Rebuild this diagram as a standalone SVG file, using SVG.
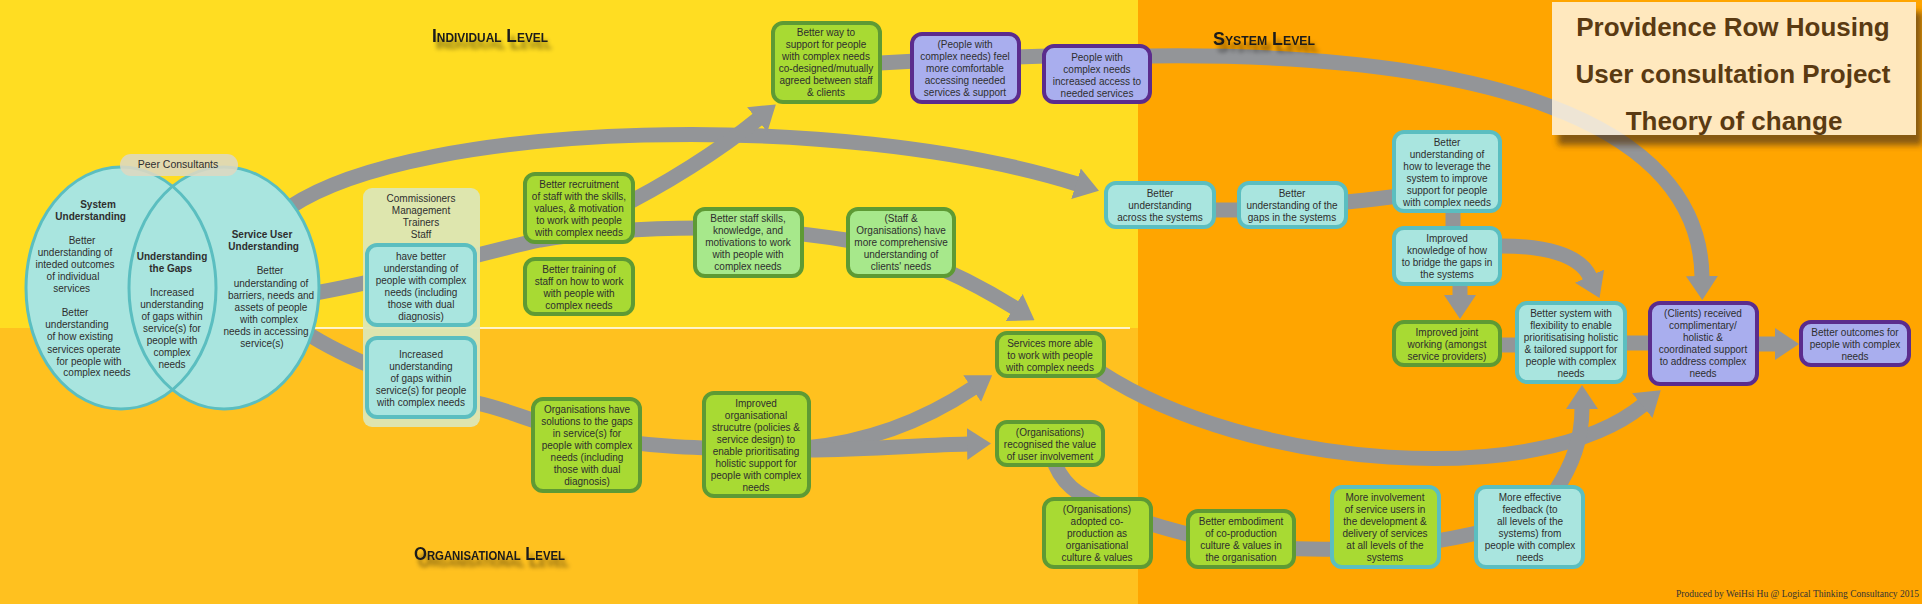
<svg xmlns="http://www.w3.org/2000/svg" width="1922" height="604" viewBox="0 0 1922 604">
<style>
.cy{fill:#A9E5DF;stroke:#5BBEC0;stroke-width:4}
.gr{fill:#A8DA33;stroke:#5E9A34;stroke-width:4}
.lg{fill:#A7E88B;stroke:#5E9A34;stroke-width:4}
.pu{fill:#A9AEEE;stroke:#5B2C8D;stroke-width:4}
.gi{fill:#A8DA33;stroke:#5BBEC0;stroke-width:4}
.t{font-family:"Liberation Sans",Arial,sans-serif;font-size:10px;fill:#2E2E2E;text-anchor:middle}
.b{font-weight:bold}
.arr{fill:none;stroke:#939598;stroke-width:15}
.lvl{font-family:"Liberation Sans",Arial,sans-serif;font-weight:bold;font-variant:small-caps;fill:#1A1A1A;font-size:19px}
.ttl{font-family:"Liberation Sans",Arial,sans-serif;font-size:26px;font-weight:bold;fill:#5A3A12;text-anchor:middle}
</style>
<defs>
<marker id="ah" markerUnits="userSpaceOnUse" viewBox="0 0 24 32" markerWidth="24" markerHeight="32" refX="1" refY="16" orient="auto">
<path d="M0,0 L24,16 L0,32 z" fill="#939598"/>
</marker>
<filter id="tsh" x="-10%" y="-40%" width="130%" height="220%">
<feGaussianBlur in="SourceAlpha" stdDeviation="2"/>
<feOffset dx="4" dy="7" result="o"/>
<feFlood flood-color="#000" flood-opacity="0.5"/>
<feComposite in2="o" operator="in"/>
<feMerge><feMergeNode/><feMergeNode in="SourceGraphic"/></feMerge>
</filter>
<filter id="bsh" x="-5%" y="-10%" width="115%" height="130%">
<feDropShadow dx="6" dy="10" stdDeviation="3" flood-color="#5A3D12" flood-opacity="0.85"/>
</filter>
</defs>

<g id="background">
<rect x="0" y="0" width="1138" height="328" fill="#FFDD22"/>
<rect x="0" y="328" width="1138" height="276" fill="#FFC11F"/>
<rect x="1138" y="0" width="784" height="604" fill="#FFA500"/>
<line x1="30" y1="328" x2="1130" y2="328" stroke="#FFFFFF" stroke-width="1.5"/>
</g>

<g id="connectors">
<path class="arr" d="M290,207 C420,120 840,110 1077,184" marker-end="url(#ah)"/>
<path class="arr" d="M315,293 C400,278 470,255 540,240 C600,230 650,228 700,228 C760,228 800,233 846,240 C910,250 970,280 1015,308" marker-end="url(#ah)"/>
<path class="arr" d="M610,212 C665,185 720,150 758,119" marker-end="url(#ah)"/>
<path class="arr" d="M880,63 C950,59 1050,54 1150,56 C1480,52 1700,120 1702,277" marker-end="url(#ah)"/>
<path class="arr" d="M305,332 C340,355 420,390 477,403 C510,410 530,422 580,434 C640,447 700,450 811,448"/>
<path class="arr" d="M805,448 C870,442 925,420 973,388" marker-end="url(#ah)"/>
<path class="arr" d="M805,450 C870,450 920,445 968,444" marker-end="url(#ah)"/>
<path class="arr" d="M1210,210 L1250,210 C1300,208 1340,203 1400,196"/>
<path class="arr" d="M1453,205 L1453,235"/>
<path class="arr" d="M1460,280 L1460,296" marker-end="url(#ah)"/>
<path class="arr" d="M1495,246 C1545,245 1580,255 1590,277" marker-end="url(#ah)"/>
<path class="arr" d="M1495,345 L1520,345"/>
<path class="arr" d="M1620,343 L1655,343"/>
<path class="arr" d="M1755,344 L1776,344" marker-end="url(#ah)"/>
<path class="arr" d="M1100,372 C1250,470 1540,490 1643,405" marker-end="url(#ah)"/>
<path class="arr" d="M1556,490 C1572,465 1582,440 1582,408" marker-end="url(#ah)"/>
<path class="arr" d="M1052,455 C1060,485 1080,495 1100,505 C1130,518 1170,530 1200,537 C1240,547 1300,550 1340,549 C1400,548 1440,542 1490,530"/>
</g>

<g id="venn">
<ellipse cx="121" cy="288" rx="95" ry="121" fill="#A9E5DF"/>
<ellipse cx="224" cy="288" rx="95" ry="121" fill="#A9E5DF"/>
<ellipse cx="121" cy="288" rx="95" ry="121" fill="none" stroke="#5BBEC0" stroke-width="3"/>
<ellipse cx="224" cy="288" rx="95" ry="121" fill="none" stroke="#5BBEC0" stroke-width="3"/>
<text class="t"><tspan class="b" x="98" y="208">System</tspan><tspan class="b" x="92" y="220">Understanding</tspan>
<tspan x="82" y="244">Better</tspan><tspan x="75" y="256">understanding of</tspan><tspan x="75" y="268">inteded outcomes</tspan><tspan x="73" y="280">of individual</tspan><tspan x="73" y="292">services</tspan>
<tspan x="75" y="316">Better</tspan><tspan x="77" y="328">understanding</tspan><tspan x="80" y="340">of how existing</tspan><tspan x="84" y="353">services operate</tspan><tspan x="89" y="365">for people with</tspan><tspan x="97" y="376">complex needs</tspan></text>
<text class="t"><tspan class="b" x="172" y="260">Understanding</tspan><tspan class="b" x="172" y="272">the Gaps</tspan>
<tspan x="172" y="296">Increased</tspan><tspan x="172" y="308">understanding</tspan><tspan x="172" y="320">of gaps within</tspan><tspan x="172" y="332">service(s) for</tspan><tspan x="172" y="344">people with</tspan><tspan x="172" y="356">complex</tspan><tspan x="172" y="368">needs</tspan></text>
<text class="t"><tspan class="b" x="262" y="238">Service User</tspan><tspan class="b" x="265" y="250">Understanding</tspan>
<tspan x="270" y="274">Better</tspan><tspan x="271" y="287">understanding of</tspan><tspan x="271" y="299">barriers, needs and</tspan><tspan x="271" y="311">assets of people</tspan><tspan x="269" y="323">with complex</tspan><tspan x="266" y="335">needs in accessing</tspan><tspan x="262" y="347">service(s)</tspan></text>
</g>

<g id="peer-consultants">
<rect x="120" y="154" width="118" height="22" rx="11" fill="#DDD8C2" opacity="0.88"/>
<text class="t" x="178" y="168" style="font-size:10.5px">Peer Consultants</text>
</g>

<g id="stakeholders">
<rect x="363" y="188" width="117" height="239" rx="9" fill="#DCE6B6" opacity="0.95"/>
<text class="t"><tspan x="421" y="202">Commissioners</tspan><tspan x="421" y="214">Management</tspan><tspan x="421" y="226">Trainers</tspan><tspan x="421" y="238">Staff</tspan></text>
</g>

<g id="n-understanding-people">
<rect class="cy" x="367" y="245" width="108" height="80" rx="10"/>
<text class="t"><tspan x="421" y="260">have better</tspan><tspan x="421" y="272">understanding of</tspan><tspan x="421" y="284">people with complex</tspan><tspan x="421" y="296">needs (including</tspan><tspan x="421" y="308">those with dual</tspan><tspan x="421" y="320">diagnosis)</tspan></text>
</g>
<g id="n-understanding-gaps">
<rect class="cy" x="367" y="338" width="108" height="79" rx="10"/>
<text class="t"><tspan x="421" y="358">Increased</tspan><tspan x="421" y="370">understanding</tspan><tspan x="421" y="382">of gaps within</tspan><tspan x="421" y="394">service(s) for people</tspan><tspan x="421" y="406">with complex needs</tspan></text>
</g>
<g id="n-recruitment">
<rect class="gr" x="525" y="174" width="108" height="68" rx="10"/>
<text class="t"><tspan x="579" y="188">Better recruitment</tspan><tspan x="579" y="200">of staff with the skills,</tspan><tspan x="579" y="212">values, &amp; motivation</tspan><tspan x="579" y="224">to work with people</tspan><tspan x="579" y="236">with complex needs</tspan></text>
</g>
<g id="n-training">
<rect class="gr" x="525" y="259" width="108" height="55" rx="10"/>
<text class="t"><tspan x="579" y="273">Better training of</tspan><tspan x="579" y="285">staff on how to work</tspan><tspan x="579" y="297">with people with</tspan><tspan x="579" y="309">complex needs</tspan></text>
</g>
<g id="n-org-solutions">
<rect class="gr" x="533" y="399" width="107" height="92" rx="10"/>
<text class="t"><tspan x="587" y="413">Organisations have</tspan><tspan x="587" y="425">solutions to the gaps</tspan><tspan x="587" y="437">in service(s) for</tspan><tspan x="587" y="449">people with complex</tspan><tspan x="587" y="461">needs (including</tspan><tspan x="587" y="473">those with dual</tspan><tspan x="587" y="485">diagnosis)</tspan></text>
</g>
<g id="n-org-structure">
<rect class="gr" x="704" y="393" width="105" height="103" rx="10"/>
<text class="t"><tspan x="756" y="407">Improved</tspan><tspan x="756" y="419">organisational</tspan><tspan x="756" y="431">strucutre (policies &amp;</tspan><tspan x="756" y="443">service design) to</tspan><tspan x="756" y="455">enable prioritisating</tspan><tspan x="756" y="467">holistic support for</tspan><tspan x="756" y="479">people with complex</tspan><tspan x="756" y="491">needs</tspan></text>
</g>
<g id="n-better-way">
<rect class="gr" x="773" y="23" width="107" height="79" rx="10"/>
<text class="t"><tspan x="826" y="36">Better way to</tspan><tspan x="826" y="48">support for people</tspan><tspan x="826" y="60">with complex needs</tspan><tspan x="826" y="72">co-designed/mutually</tspan><tspan x="826" y="84">agreed between staff</tspan><tspan x="826" y="96">&amp; clients</tspan></text>
</g>
<g id="n-feel-comfortable">
<rect class="pu" x="912" y="34" width="107" height="68" rx="10"/>
<text class="t"><tspan x="965" y="48">(People with</tspan><tspan x="965" y="60">complex needs) feel</tspan><tspan x="965" y="72">more comfortable</tspan><tspan x="965" y="84">accessing needed</tspan><tspan x="965" y="96">services &amp; support</tspan></text>
</g>
<g id="n-increased-access">
<rect class="pu" x="1044" y="46" width="106" height="56" rx="10"/>
<text class="t"><tspan x="1097" y="61">People with</tspan><tspan x="1097" y="73">complex needs</tspan><tspan x="1097" y="85">increased access to</tspan><tspan x="1097" y="97">needed services</tspan></text>
</g>
<g id="n-staff-skills">
<rect class="lg" x="695" y="209" width="107" height="67" rx="10"/>
<text class="t"><tspan x="748" y="222">Better staff skills,</tspan><tspan x="748" y="234">knowledge, and</tspan><tspan x="748" y="246">motivations to work</tspan><tspan x="748" y="258">with people with</tspan><tspan x="748" y="270">complex needs</tspan></text>
</g>
<g id="n-comprehensive">
<rect class="lg" x="848" y="209" width="106" height="67" rx="10"/>
<text class="t"><tspan x="901" y="222">(Staff &amp;</tspan><tspan x="901" y="234">Organisations) have</tspan><tspan x="901" y="246">more comprehensive</tspan><tspan x="901" y="258">understanding of</tspan><tspan x="901" y="270">clients' needs</tspan></text>
</g>
<g id="n-services-able">
<rect class="gr" x="997" y="333" width="107" height="43" rx="10"/>
<text class="t"><tspan x="1050" y="347">Services more able</tspan><tspan x="1050" y="359">to work with people</tspan><tspan x="1050" y="371">with complex needs</tspan></text>
</g>
<g id="n-recognised">
<rect class="gr" x="997" y="422" width="106" height="43" rx="10"/>
<text class="t"><tspan x="1050" y="436">(Organisations)</tspan><tspan x="1050" y="448">recognised the value</tspan><tspan x="1050" y="460">of user involvement</tspan></text>
</g>
<g id="n-adopted">
<rect class="gr" x="1044" y="499" width="107" height="68" rx="10"/>
<text class="t"><tspan x="1097" y="513">(Organisations)</tspan><tspan x="1097" y="525">adopted co-</tspan><tspan x="1097" y="537">production as</tspan><tspan x="1097" y="549">organisational</tspan><tspan x="1097" y="561">culture &amp; values</tspan></text>
</g>
<g id="n-embodiment">
<rect class="gr" x="1188" y="511" width="106" height="56" rx="10"/>
<text class="t"><tspan x="1241" y="525">Better embodiment</tspan><tspan x="1241" y="537">of co-production</tspan><tspan x="1241" y="549">culture &amp; values in</tspan><tspan x="1241" y="561">the organisation</tspan></text>
</g>
<g id="n-involvement">
<rect class="gi" x="1332" y="487" width="107" height="80" rx="10"/>
<text class="t"><tspan x="1385" y="501">More involvement</tspan><tspan x="1385" y="513">of service users in</tspan><tspan x="1385" y="525">the development &amp;</tspan><tspan x="1385" y="537">delivery of services</tspan><tspan x="1385" y="549">at all levels of the</tspan><tspan x="1385" y="561">systems</tspan></text>
</g>
<g id="n-feedback">
<rect class="cy" x="1476" y="487" width="107" height="80" rx="10"/>
<text class="t"><tspan x="1530" y="501">More effective</tspan><tspan x="1530" y="513">feedback (to</tspan><tspan x="1530" y="525">all levels of the</tspan><tspan x="1530" y="537">systems) from</tspan><tspan x="1530" y="549">people with complex</tspan><tspan x="1530" y="561">needs</tspan></text>
</g>
<g id="n-across-systems">
<rect class="cy" x="1106" y="183" width="108" height="44" rx="10"/>
<text class="t"><tspan x="1160" y="197">Better</tspan><tspan x="1160" y="209">understanding</tspan><tspan x="1160" y="221">across the systems</tspan></text>
</g>
<g id="n-gaps-systems">
<rect class="cy" x="1239" y="183" width="107" height="44" rx="10"/>
<text class="t"><tspan x="1292" y="197">Better</tspan><tspan x="1292" y="209">understanding of the</tspan><tspan x="1292" y="221">gaps in the systems</tspan></text>
</g>
<g id="n-leverage">
<rect class="cy" x="1394" y="132" width="106" height="79" rx="10"/>
<text class="t"><tspan x="1447" y="146">Better</tspan><tspan x="1447" y="158">understanding of</tspan><tspan x="1447" y="170">how to leverage the</tspan><tspan x="1447" y="182">system to improve</tspan><tspan x="1447" y="194">support for people</tspan><tspan x="1447" y="206">with complex needs</tspan></text>
</g>
<g id="n-bridge-gaps">
<rect class="cy" x="1394" y="228" width="106" height="56" rx="10"/>
<text class="t"><tspan x="1447" y="242">Improved</tspan><tspan x="1447" y="254">knowledge of how</tspan><tspan x="1447" y="266">to bridge the gaps in</tspan><tspan x="1447" y="278">the systems</tspan></text>
</g>
<g id="n-joint-working">
<rect class="gr" x="1394" y="322" width="106" height="43" rx="10"/>
<text class="t"><tspan x="1447" y="336">Improved joint</tspan><tspan x="1447" y="348">working (amongst</tspan><tspan x="1447" y="360">service providers)</tspan></text>
</g>
<g id="n-better-system">
<rect class="cy" x="1517" y="303" width="108" height="79" rx="10"/>
<text class="t"><tspan x="1571" y="317">Better system with</tspan><tspan x="1571" y="329">flexibility to enable</tspan><tspan x="1571" y="341">prioritisatising holistic</tspan><tspan x="1571" y="353">&amp; tailored support for</tspan><tspan x="1571" y="365">people with complex</tspan><tspan x="1571" y="377">needs</tspan></text>
</g>
<g id="n-clients-support">
<rect class="pu" x="1650" y="303" width="107" height="81" rx="10"/>
<text class="t"><tspan x="1703" y="317">(Clients) received</tspan><tspan x="1703" y="329">complimentary/</tspan><tspan x="1703" y="341">holistic &amp;</tspan><tspan x="1703" y="353">coordinated support</tspan><tspan x="1703" y="365">to address complex</tspan><tspan x="1703" y="377">needs</tspan></text>
</g>
<g id="n-outcomes">
<rect class="pu" x="1801" y="322" width="108" height="43" rx="10"/>
<text class="t"><tspan x="1855" y="336">Better outcomes for</tspan><tspan x="1855" y="348">people with complex</tspan><tspan x="1855" y="360">needs</tspan></text>
</g>

<g id="title">
<rect x="1552" y="2" width="364" height="133" fill="#FFF4E0" opacity="0.85" filter="url(#bsh)"/>
<text class="ttl" x="1733" y="36">Providence Row Housing</text>
<text class="ttl" x="1733" y="83">User consultation Project</text>
<text class="ttl" x="1734" y="130">Theory of change</text>
</g>

<g id="levels" filter="url(#tsh)">
<text class="lvl" x="432" y="42" textLength="116" lengthAdjust="spacingAndGlyphs">Individual Level</text>
<text class="lvl" x="1213" y="45" textLength="102" lengthAdjust="spacingAndGlyphs">System Level</text>
<text class="lvl" x="414" y="560" textLength="151" lengthAdjust="spacingAndGlyphs">Organisational Level</text>
</g>

<text x="1676" y="597" style="font-family:'Liberation Serif','Times New Roman',serif;font-size:9.5px;fill:#333">Produced by WeiHsi Hu @ Logical Thinking Consultancy 2015</text>
</svg>
